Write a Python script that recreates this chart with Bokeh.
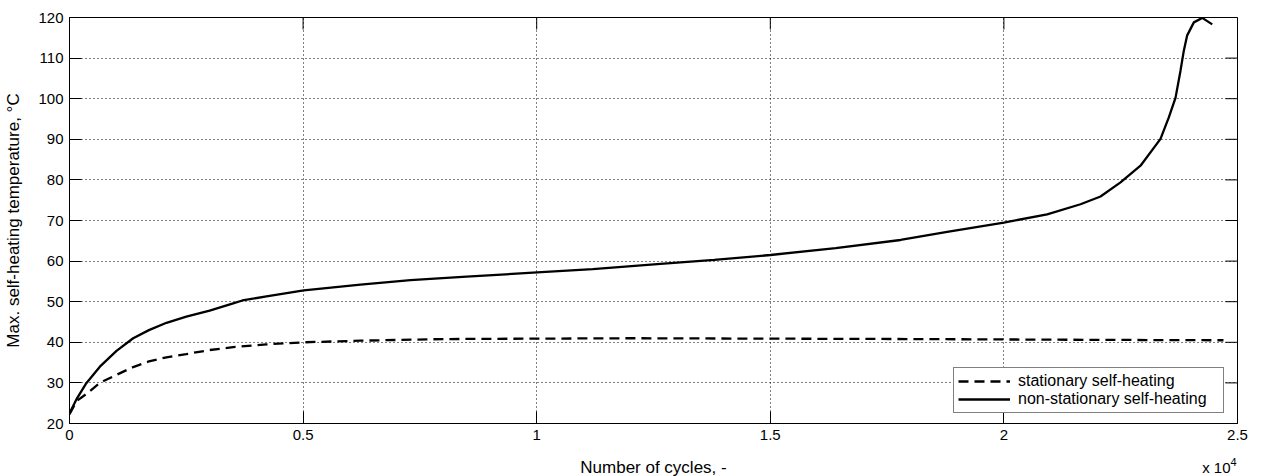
import math
from bokeh.plotting import figure
from bokeh.layouts import column
from bokeh.models import FixedTicker, Legend, LegendItem
from bokeh.core.properties import value
from bokeh.embed import file_html
from bokeh.resources import INLINE

# ---- data ----
ns_cycles = [0, 150, 364, 650, 1006, 1363, 1700, 2076, 2500, 3000, 3503, 3700, 4217,
             5015, 6228, 7299, 8500, 10010, 11200, 12650, 13800, 15004, 16400, 17787,
             18786, 20000, 20926, 21640, 22068, 22496, 22924, 23352, 23530, 23673,
             23780, 23852, 23923, 24066, 24245, 24459]
ns_temp = [22.5, 26.0, 30.0, 34.0, 37.9, 41.0, 43.0, 44.8, 46.3, 47.8, 49.6, 50.3, 51.3,
           52.8, 54.2, 55.3, 56.2, 57.2, 58.0, 59.3, 60.3, 61.5, 63.2, 65.2,
           67.2, 69.5, 71.5, 74.0, 75.9, 79.4, 83.5, 90.1, 95.4, 100.2,
           106.9, 111.9, 115.6, 118.8, 119.9, 118.3]

st_cycles = [0, 150, 364, 650, 1006, 1363, 1700, 2076, 2500, 3000, 3503, 4217, 5015,
             6228, 8000, 10000, 12000, 15000, 18000, 20000, 22000, 24700]
st_temp = [22.3, 25.5, 27.3, 30.0, 32.0, 33.9, 35.3, 36.3, 37.1, 38.1, 38.8, 39.5, 40.0,
           40.4, 40.8, 40.9, 41.0, 40.9, 40.8, 40.7, 40.6, 40.5]

x_ticks = [0, 5000, 10000, 15000, 20000, 25000]
x_tick_labels = ["0", "0.5", "1", "1.5", "2", "2.5"]
y_ticks = [20, 30, 40, 50, 60, 70, 80, 90, 100, 110, 120]
x_title = "Number of cycles, -"
y_title = "Max. self-heating temperature, °C"
x_mult_base = "x 10"
x_mult_exp = "4"
x_max = 25000
y_max = 120

FONT = "Liberation Sans"

p = figure(width=1261, height=453, output_backend="svg", toolbar_location=None,
           x_range=(0, x_max), y_range=(20, y_max),
           min_border_left=69, min_border_right=24, min_border_top=17, min_border_bottom=30,
           background_fill_color="white", border_fill_color="white")

p.outline_line_color = "black"
p.outline_line_width = 1

r_st = p.line(st_cycles, st_temp, line_color="black", line_width=2.3, line_dash="10 6")
r_ns = p.line(ns_cycles, ns_temp, line_color="black", line_width=2.3)

# inward ticks on top and right sides (MATLAB box style)
p.ray(x=x_ticks, y=[y_max] * len(x_ticks), length=12, length_units="screen",
      angle=-math.pi / 2, line_color="black", line_width=1)
p.ray(x=[x_max] * len(y_ticks), y=y_ticks, length=12, length_units="screen",
      angle=math.pi, line_color="black", line_width=1)

def style_axis(ax):
    ax.major_tick_in = 12
    ax.major_tick_out = 0
    ax.minor_tick_line_color = None
    ax.axis_line_color = "black"
    ax.major_tick_line_color = "black"
    ax.major_label_text_font = FONT
    ax.major_label_text_color = "black"
    ax.major_label_text_font_size = "15px"
    ax.axis_label_text_font = FONT
    ax.axis_label_text_font_style = "normal"
    ax.axis_label_text_color = "black"

xa = p.xaxis[0]
xa.ticker = FixedTicker(ticks=x_ticks)
xa.major_label_overrides = {t: l for t, l in zip(x_ticks, x_tick_labels)}
style_axis(xa)
xa.major_label_standoff = 6

ya = p.yaxis[0]
ya.ticker = FixedTicker(ticks=y_ticks)
style_axis(ya)
ya.major_label_standoff = 6
ya.axis_label = y_title
ya.axis_label_text_font_size = "17px"
ya.axis_label_standoff = 12

for g in (p.xgrid[0], p.ygrid[0]):
    g.grid_line_color = "black"
    g.grid_line_dash = "1 3"
    g.grid_line_width = 1
p.xgrid[0].ticker = FixedTicker(ticks=x_ticks)
p.ygrid[0].ticker = FixedTicker(ticks=y_ticks)

legend = Legend(items=[LegendItem(label="stationary self-heating", renderers=[r_st]),
                       LegendItem(label="non-stationary self-heating", renderers=[r_ns])],
                location=(884, 10), orientation="vertical")
legend.border_line_color = "black"
legend.border_line_width = 1
legend.background_fill_color = "white"
legend.background_fill_alpha = 1
legend.label_text_font = FONT
legend.label_text_font_size = "16px"
legend.label_text_color = "black"
legend.glyph_width = 52
legend.glyph_height = 18
legend.label_height = 18
legend.label_width = 201
legend.label_standoff = 8
legend.padding = 4
legend.spacing = 0
legend.margin = 0
p.add_layout(legend, "center")

# strip below the axes holding the x-axis title and the x10^4 multiplier
# (its frame is aligned with the main frame by the column layout)
H2 = 23
p2 = figure(width=1261, height=H2, output_backend="svg", toolbar_location=None,
            x_range=(0, x_max), y_range=(0, H2), x_axis_type=None, y_axis_type=None,
            min_border_left=69, min_border_right=24, min_border_top=0, min_border_bottom=0,
            background_fill_color="white", border_fill_color="white")
p2.outline_line_color = None
p2.grid.visible = False
p2.text(x=[x_max / 2], y=[9], text=[x_title], text_align="center",
        text_baseline="middle", text_font=value(FONT), text_font_size="17px",
        text_color="black")
p2.text(x=[x_max], y=[9], text=[x_mult_base], text_align="right", x_offset=-7,
        text_baseline="middle", text_font=value(FONT), text_font_size="15px",
        text_color="black")
p2.text(x=[x_max], y=[15], text=[x_mult_exp], text_align="right", x_offset=-1,
        text_baseline="middle", text_font=value(FONT), text_font_size="11px",
        text_color="black")

layout = column(p, p2, spacing=0)

open("out.html", "w").write(file_html(layout, INLINE))
